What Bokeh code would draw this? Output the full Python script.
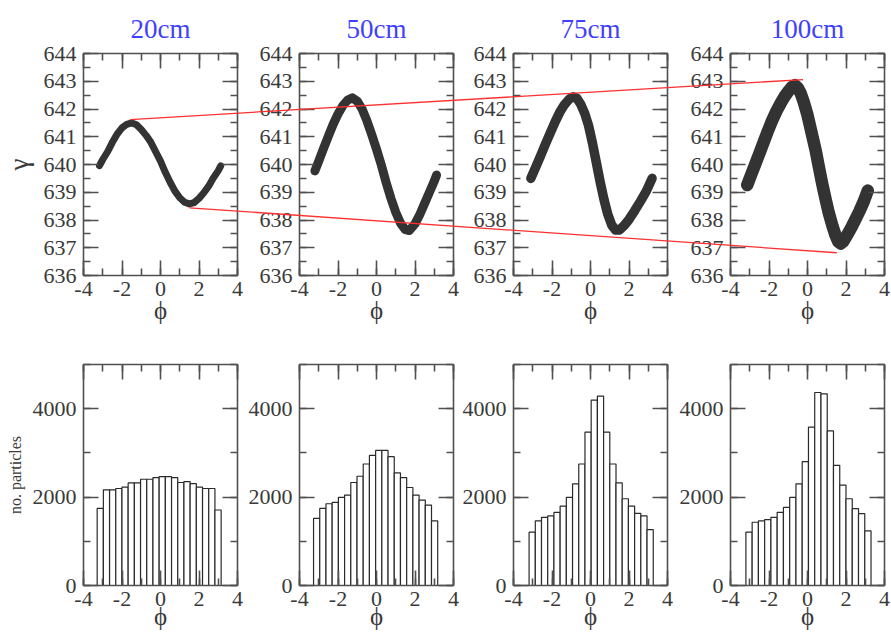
import numpy as np
from bokeh.plotting import figure
from bokeh.models import LinearAxis, Range1d, SingleIntervalTicker, PrintfTickFormatter, GridBox
from bokeh.embed import file_html
from bokeh.resources import INLINE

# ---------------- data ----------------
titles = ["20cm", "50cm", "75cm", "100cm"]

# centre of the particle band in (phi, gamma) phase space
phi_20 = [-3.17, -3.00, -2.75, -2.50, -2.25, -2.00, -1.75, -1.50, -1.25, -1.00, -0.75, -0.50, -0.25,
          0.00, 0.25, 0.50, 0.75, 1.00, 1.25, 1.50, 1.75, 2.00, 2.25, 2.50, 2.75, 3.00, 3.13]
gam_20 = [639.96, 640.18, 640.46, 640.80, 641.10, 641.32, 641.45, 641.50, 641.43, 641.26, 641.05, 640.80, 640.46,
          640.12, 639.72, 639.36, 639.04, 638.80, 638.64, 638.58, 638.63, 638.78, 638.98, 639.22, 639.52, 639.78, 639.95]

phi_50 = [-3.20, -3.00, -2.75, -2.50, -2.25, -2.00, -1.75, -1.50, -1.25, -1.00, -0.75, -0.50, -0.25,
          0.00, 0.25, 0.50, 0.75, 1.00, 1.25, 1.50, 1.70, 2.00, 2.25, 2.50, 2.75, 3.00, 3.12]
gam_50 = [639.77, 640.12, 640.58, 641.02, 641.45, 641.82, 642.12, 642.32, 642.40, 642.28, 642.00, 641.58, 641.08,
          640.55, 639.98, 639.35, 638.78, 638.28, 637.88, 637.65, 637.62, 637.86, 638.20, 638.60, 639.00, 639.40, 639.62]

phi_75 = [-3.10, -2.85, -2.60, -2.35, -2.10, -1.85, -1.60, -1.35, -1.10, -0.90, -0.70, -0.50, -0.30, -0.10,
          0.10, 0.30, 0.50, 0.70, 0.90, 1.10, 1.30, 1.50, 1.75, 2.00, 2.30, 2.60, 2.90, 3.20]
gam_75 = [639.50, 639.90, 640.30, 640.72, 641.12, 641.52, 641.88, 642.16, 642.36, 642.44, 642.38, 642.16, 641.84, 641.40,
          640.78, 640.08, 639.38, 638.74, 638.20, 637.82, 637.64, 637.64, 637.80, 638.02, 638.34, 638.68, 639.04, 639.50]

phi_100 = [-3.13, -2.90, -2.70, -2.50, -2.27, -2.05, -1.84, -1.60, -1.40, -1.20, -0.97, -0.80, -0.65, -0.50, -0.35,
           -0.20, 0.00, 0.20, 0.42, 0.60, 0.76, 0.95, 1.11, 1.30, 1.45, 1.60, 1.72, 1.85, 2.06, 2.30, 2.49, 2.70,
           2.93, 3.13]
gam_100 = [639.26, 639.68, 640.04, 640.40, 640.82, 641.22, 641.58, 641.94, 642.20, 642.44, 642.66, 642.80, 642.86,
           642.76, 642.56, 642.26, 641.78, 641.18, 640.52, 639.88, 639.32, 638.72, 638.24, 637.78, 637.46, 637.22,
           637.15, 637.22, 637.46, 637.76, 638.02, 638.32, 638.68, 639.06]

# histograms: 20 bins per distance, (first edge, last edge) and counts
bins_20 = (-3.29, 3.15)
counts_20 = [1745, 2165, 2165, 2195, 2225, 2322, 2322, 2404, 2404, 2442,
             2464, 2464, 2442, 2330, 2352, 2307, 2225, 2195, 2195, 1708]
bins_50 = (-3.27, 3.18)
counts_50 = [1520, 1745, 1850, 1880, 1993, 2045, 2330, 2472, 2749, 2944,
             3056, 3056, 2914, 2547, 2442, 2217, 2045, 1933, 1820, 1461]
bins_75 = (-3.19, 3.26)
counts_75 = [1206, 1461, 1543, 1573, 1655, 1798, 1993, 2300, 2749, 3468,
             4195, 4285, 3468, 2749, 2322, 1963, 1798, 1633, 1573, 1266]
bins_100 = (-3.20, 3.30)
counts_100 = [1206, 1431, 1461, 1491, 1543, 1655, 1768, 1993, 2300, 2801,
              3581, 4367, 4337, 3498, 2719, 2270, 1963, 1738, 1625, 1236]

# red guide lines joining the extrema: (panel index, phi, gamma) at both ends
upper_line = [(0, -1.58, 641.62), (3, -0.23, 643.06)]
lower_line = [(0, 1.51, 638.44), (3, 1.52, 636.82)]

# ---------------- styling / layout ----------------
FONT = "Liberation Serif"
AX = "#505050"
TXT = "#3a3a3a"
curves = [(phi_20, gam_20), (phi_50, gam_50), (phi_75, gam_75), (phi_100, gam_100)]
band_w = [7, 9, 9.5, 12.5]
hists = [(bins_20, counts_20), (bins_50, counts_50), (bins_75, counts_75), (bins_100, counts_100)]

W = 891
FW = 154
FH_TOP = 222
TOP_BT, TOP_BB = 53, 60
frame_left = [83, 299, 513, 730]
b_left = [83, 54, 54, 54]
b_right = [8, 6, 9, 7]
px_per_unit = FW / 8.0


def make_axis(ticker, labels=True, **kw):
    ax = LinearAxis(ticker=ticker, **kw)
    ax.axis_line_color = AX
    ax.axis_line_width = 1.6
    ax.major_tick_line_color = AX
    ax.major_tick_line_width = 1.6
    ax.minor_tick_line_color = AX
    ax.minor_tick_line_width = 1.6
    ax.major_tick_in = 15
    ax.major_tick_out = 0
    ax.minor_tick_in = 7
    ax.minor_tick_out = 0
    if labels:
        ax.formatter = PrintfTickFormatter(format="%d")
        ax.major_label_text_font = FONT
        ax.major_label_text_font_size = "22px"
        ax.major_label_text_color = TXT
    else:
        ax.major_label_text_font_size = "1px"
        ax.major_label_text_color = None
        ax.major_label_standoff = 0
    ax.axis_label_text_font = FONT
    ax.axis_label_text_font_style = "normal"
    ax.axis_label_text_color = TXT
    return ax


def base_fig(i, yr, fh, bt, bb):
    p = figure(x_range=Range1d(-4, 4), y_range=yr,
               frame_width=FW, frame_height=fh,
               min_border_left=b_left[i], min_border_right=b_right[i],
               min_border_top=bt, min_border_bottom=bb,
               x_axis_location=None, y_axis_location=None,
               toolbar_location=None, output_backend="svg",
               background_fill_color="white", border_fill_color="white")
    p.outline_line_color = None
    p.grid.visible = False
    return p


def add_axes(p, xint, yint, ylabel=None, ylabel_size="26px", ylabel_standoff=6, xlabel_standoff=-6):
    xt = lambda: SingleIntervalTicker(interval=xint, num_minor_ticks=2)
    yt = lambda: SingleIntervalTicker(interval=yint, num_minor_ticks=2)
    bx = make_axis(xt(), major_label_standoff=6)
    bx.axis_label = "ϕ"
    bx.axis_label_text_font_size = "25px"
    bx.axis_label_standoff = xlabel_standoff
    p.add_layout(bx, "below")
    ly = make_axis(yt(), major_label_standoff=7)
    if ylabel:
        ly.axis_label = ylabel
        ly.axis_label_text_font_size = ylabel_size
        ly.axis_label_standoff = ylabel_standoff
    p.add_layout(ly, "left")
    p.add_layout(make_axis(xt(), labels=False), "above")
    p.add_layout(make_axis(yt(), labels=False), "right")


top_figs = []
for i in range(4):
    p = base_fig(i, Range1d(636, 644), FH_TOP, TOP_BT, TOP_BB)
    p.title.text = titles[i]
    p.title.align = "center"
    p.title.text_font = FONT
    p.title.text_font_size = "27px"
    p.title.text_font_style = "normal"
    p.title.text_color = "#4040ff"
    p.title.standoff = 19
    add_axes(p, 2, 1, ylabel="γ" if i == 0 else None, ylabel_size="27px", ylabel_standoff=7,
             xlabel_standoff=-2)
    ph, gm = curves[i]
    p.line(ph, gm, line_width=band_w[i], line_color="#333333",
           line_cap="round", line_join="round")
    top_figs.append(p)

bot_figs = []
for i in range(4):
    p = base_fig(i, Range1d(0, 5000), 221, 29, 51)
    add_axes(p, 2, 2000, ylabel="no. particles" if i == 0 else None, ylabel_size="16px",
             ylabel_standoff=6, xlabel_standoff=-6)
    (lo, hi), cnt = hists[i]
    edges = np.linspace(lo, hi, len(cnt) + 1)
    p.quad(left=edges[:-1], right=edges[1:], bottom=0, top=cnt,
           fill_color="white", line_color="#2a2a2a", line_width=1.2)
    bot_figs.append(p)

# transparent overlay spanning the whole top row; in the grid its frame lines up with the
# panels' frames (from the first panel's left edge to the last panel's right edge), and it
# uses the first panel's (phi, gamma) units so the red guide lines can cross the gaps
span_w = frame_left[3] + FW - frame_left[0]
ov = figure(x_range=Range1d(-4, -4 + span_w / px_per_unit), y_range=Range1d(636, 644),
            width=W, height=TOP_BT + FH_TOP + TOP_BB,
            min_border_left=0, min_border_right=0, min_border_top=0, min_border_bottom=0,
            x_axis_location=None, y_axis_location=None,
            toolbar_location=None, output_backend="svg",
            background_fill_color=None, border_fill_color=None)
ov.outline_line_color = None
ov.grid.visible = False
for line in (upper_line, lower_line):
    xs = [x + (frame_left[k] - frame_left[0]) / px_per_unit for (k, x, _) in line]
    ys = [y for (_, _, y) in line]
    ov.line(xs, ys, line_color="#ff3030", line_width=1.3)

children = [(f, 0, i) for i, f in enumerate(top_figs)] + [(f, 1, i) for i, f in enumerate(bot_figs)]
children.append((ov, 0, 0, 1, 4))
layout = GridBox(children=children, spacing=0)
open("out.html", "w").write(file_html(layout, INLINE))
